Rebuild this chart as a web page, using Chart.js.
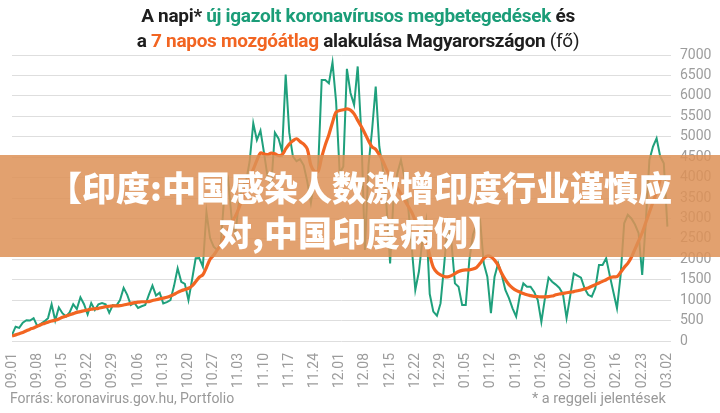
<!DOCTYPE html>
<html>
<head>
<meta charset="utf-8">
<script src="https://cdn.jsdelivr.net/npm/chart.js"></script>
<style>
  body { margin: 0; background: #fff; }
  #wrap { position: relative; width: 720px; height: 413px; overflow: hidden; background: #fff; }
  #covidChart { position: absolute; left: 0; top: 0; }
  .title { position: absolute; left: -2px; top: 3px; width: 720px; text-align: center;
           font-family: Roboto, sans-serif; font-weight: bold; font-size: 19px; line-height: 25px;
           color: #1e1e1e; letter-spacing: -0.3px; }
  .title .g { color: #1b9d78; }
  .title .o { color: #f26522; }
  .title .n { font-weight: normal; }
  .banner { position: absolute; left: 0; top: 155px; width: 720px; height: 102px;
            background: rgba(221, 146, 87, 0.86); color: #fff; text-align: center;
            font-family: "Noto Sans CJK SC", sans-serif; font-weight: 900; font-size: 34px;
            line-height: 45px; padding-top: 9px; box-sizing: border-box; }
  .foot { position: absolute; top: 390px; font-family: Roboto, sans-serif; font-size: 14px; color: #999; }
</style>
</head>
<body>
<div id="wrap">
  <canvas id="covidChart" width="720" height="413"></canvas>
  <div class="title">
    A napi* <span class="g">új igazolt koronavírusos megbetegedések</span> és<br>
    a <span class="o">7 napos mozgóátlag</span> alakulása Magyarországon <span class="n">(fő)</span>
  </div>
  <div class="banner">【印度:中国感染人数激增印度行业谨慎应<br>对,中国印度病例】</div>
  <div class="foot" style="left:10px">Forrás: koronavirus.gov.hu, Portfolio</div>
  <div class="foot" style="left:532px; font-size:14.5px">* a reggeli jelentések</div>
</div>
<script>
// tick labels every 7 days, 2020.09.01 - 2021.03.02
const tickLabels = ['09.01', '09.08', '09.15', '09.22', '09.29', '10.06', '10.13', '10.20', '10.27',
  '11.03', '11.10', '11.17', '11.24', '12.01', '12.08', '12.15', '12.22', '12.29',
  '01.05', '01.12', '01.19', '01.26', '02.02', '02.09', '02.16', '02.23', '03.02'];

// daily new confirmed cases (one value per day from 09.01)
const dailyCases = [
  150, 350, 320, 450, 510, 500, 560, 370, 420, 480,
  560, 900, 500, 820, 680, 600, 700, 900, 780, 1070,
  900, 650, 930, 760, 900, 930, 900, 690, 880, 865,
  1000, 1300, 1130, 880, 930, 810, 850, 880, 1130, 1355,
  1110, 1180, 920, 950, 1000, 1350, 1780, 1450, 1400, 1000,
  1500, 2025, 2030, 1820, 3150, 2520, 2310, 2230, 2400, 3620,
  3950,
  3000, 2600, 3400, 3800, 3900, 4400, 5330, 4920, 5150, 4600,
  4000, 3800, 5100, 4960, 4640, 6520, 5100, 4520, 4400, 4450,
  4300, 3900, 3380, 3940, 4200, 6390, 6390, 6310, 6820, 5860,
  4100, 4270, 6660, 6070, 5780, 6720, 5090, 2230, 4300, 5170,
  6230, 4760, 4200, 3300, 1900, 3600, 4100, 4430, 4000, 3300,
  2300, 1250, 1700, 2500, 2950, 1150, 720, 620, 920, 1850,
  2880,
  2450, 1410, 1330, 880, 880, 1985, 2600, 2850, 2950, 1900,
  1575, 680, 1575, 1900, 1620, 1250, 1050, 800, 600, 1100,
  1410, 1330, 1330, 1200, 1000, 470, 1050, 1550, 1450, 1380,
  1300,
  1150, 560, 1100, 1650, 1600, 1550, 1290, 1130, 1085, 1300,
  1860, 1860, 2025, 1600, 1200, 800, 1600, 2880, 3090, 3000,
  2850, 2640, 1615, 2900, 4430, 4760, 4960, 4520,
  4350, 2800
];

// 7 day moving average
const movingAvg = [
  120, 150, 180, 210, 250, 290, 320, 360, 400, 430,
  460, 490, 510, 540, 580, 610, 640, 670, 700, 720,
  740, 760, 780, 790, 800, 820, 840, 850, 860, 860,
  865, 880, 900, 920, 940, 950, 960, 960, 965, 990,
  1010, 1030, 1050, 1070, 1100, 1140, 1190, 1230, 1260, 1290,
  1350, 1450, 1560, 1620, 1800, 2000, 2100, 2230, 2350, 2550,
  2700,
  2900, 3050, 3250, 3500, 3750, 4000, 4200, 4420, 4600, 4580,
  4560, 4600, 4580, 4540, 4560, 4700, 4820, 4900, 4950, 4880,
  4820, 4700, 4300, 4150, 4150, 4500, 4800, 5050, 5350, 5600,
  5640, 5660, 5680, 5650, 5560, 5400, 5250, 5080, 4900, 4750,
  4690, 4560, 4400, 4200, 4050, 3900, 3750, 3600, 3450, 3300,
  3150, 2950, 2800, 2650, 2450, 2100, 1800, 1680, 1620, 1580,
  1570,
  1600, 1650, 1700, 1730, 1740, 1740, 1760, 1800, 1900, 2020,
  2080, 2060, 1980, 1850, 1650, 1500, 1380, 1300, 1240, 1200,
  1160, 1130, 1110, 1090, 1085, 1080, 1080, 1085, 1100, 1130,
  1150,
  1165, 1180, 1195, 1210, 1230, 1250, 1275, 1300, 1340, 1380,
  1420, 1460, 1500, 1550, 1570, 1575, 1680, 1800, 1900, 2050,
  2250, 2450, 2650, 2900, 3150, 3400, 3650, 3950,
  null, null
];

const toPoints = arr => arr.map((v, i) => ({ x: i, y: v }));

const ctx = document.getElementById('covidChart').getContext('2d');
const chart = new Chart(ctx, {
  type: 'line',
  data: {
    datasets: [
      {
        label: '7 napos mozgóátlag',
        data: toPoints(movingAvg),
        borderColor: '#f26522',
        borderWidth: 3.2,
        pointRadius: 0,
        tension: 0.3,
        order: 0
      },
      {
        label: 'új igazolt koronavírusos megbetegedések',
        data: toPoints(dailyCases),
        borderColor: '#1fa07c',
        borderWidth: 2,
        pointRadius: 0,
        tension: 0,
        order: 1
      }
    ]
  },
  options: {
    responsive: false,
    animation: false,
    layout: { padding: { left: 12, top: 55, right: 0, bottom: 0 } },
    plugins: { legend: { display: false }, tooltip: { enabled: false } },
    scales: {
      x: {
        type: 'linear',
        min: 0,
        max: 183,
        grid: { display: false },
        border: { display: false },
        afterBuildTicks: s => { s.ticks = tickLabels.map((t, k) => ({ value: k * 7 })); },
        afterFit: s => { s.height = 72; },
        ticks: {
          autoSkip: false,
          maxRotation: 90,
          minRotation: 90,
          padding: 4,
          color: '#9c9c9c',
          font: { family: 'Roboto', size: 14 },
          callback: v => tickLabels[Math.round(v / 7)]
        }
      },
      y: {
        position: 'right',
        min: 0,
        max: 7000,
        grid: { color: '#dedede', drawTicks: false },
        border: { display: false },
        afterFit: s => { s.width = 49; },
        ticks: {
          stepSize: 500,
          padding: 9,
          color: '#9c9c9c',
          font: { family: 'Roboto', size: 14 },
          callback: v => String(v)
        }
      }
    }
  }
});
</script>
</body>
</html>
